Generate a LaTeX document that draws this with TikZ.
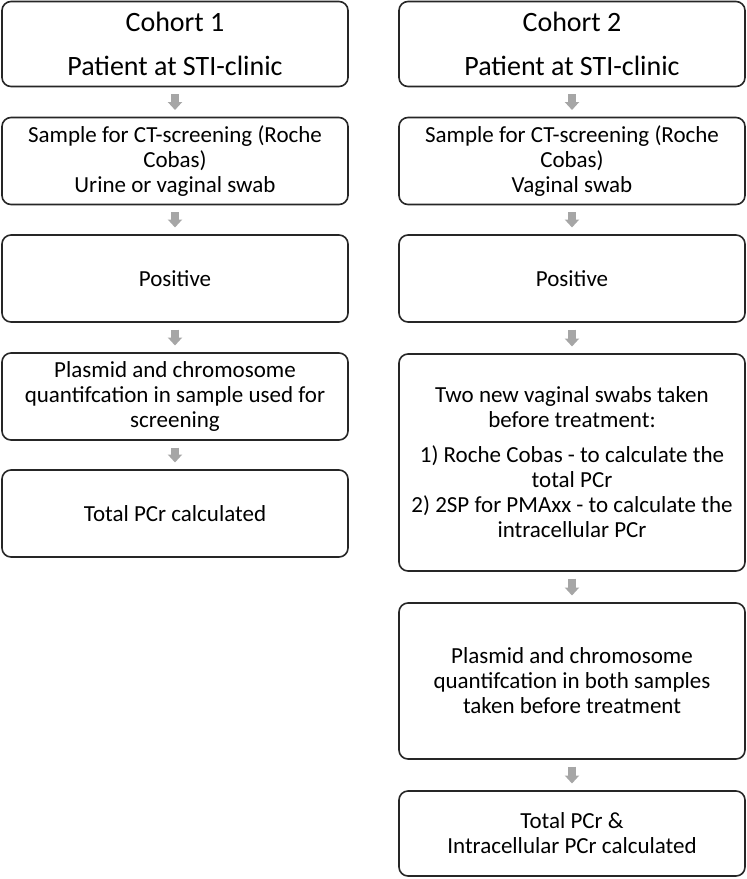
\documentclass[tikz,border=0pt]{standalone}
\usepackage{fontspec}
\setmainfont{Carlito}
\usetikzlibrary{arrows.meta}

\begin{document}
\begin{tikzpicture}[x=1pt,y=-1pt,
    box/.style={draw=black!85, line width=1.6pt, rounded corners=9pt, minimum width=346pt,
        align=center, inner sep=0pt, outer sep=0pt, font=\fontsize{23}{25}\selectfont},
    head/.style={box, font=\fontsize{28}{34}\selectfont},
    flow/.style={draw=black!35, line width=8pt, -{Triangle[width=14pt,length=8pt]},
        shorten <=7.5pt, shorten >=7.5pt}]
    \useasboundingbox (0,0) rectangle (747,879);

    \begin{scope}
        \node[head, minimum height=85pt] (A) at (175,44) {Cohort 1\\[10pt] Patient at STI-clinic};
        \node[box, minimum height=87pt] (B) at (175,161) {Sample for CT-screening (Roche\\ Cobas)\\ Urine or vaginal swab};
        \node[box, minimum height=87pt] (C) at (175,278.5) {Positive};
        \node[box, minimum height=87pt] (D) at (175,396.5) {Plasmid and chromosome\\ quantifcation in sample used for\\ screening};
        \node[box, minimum height=87pt] (E) at (175,513.5) {Total PCr calculated};
        \draw[flow] (A) to (B);
        \draw[flow] (B) to (C);
        \draw[flow] (C) to (D);
        \draw[flow] (D) to (E);
    \end{scope}

    \begin{scope}[xshift=397pt]
        \node[head, minimum height=85pt] (A) at (175,44) {Cohort 2\\[10pt] Patient at STI-clinic};
        \node[box, minimum height=87pt] (B) at (175,161) {Sample for CT-screening (Roche\\ Cobas)\\ Vaginal swab};
        \node[box, minimum height=87pt] (C) at (175,278.5) {Positive};
        \node[box, minimum height=217pt] (D) at (175,462.5) {Two new vaginal swabs taken\\ before treatment:\\[10pt]
            1) Roche Cobas - to calculate the\\ total PCr\\ 2) 2SP for PMAxx - to calculate the\\ intracellular PCr};
        \node[box, minimum height=156pt] (E) at (175,681) {Plasmid and chromosome\\ quantifcation in both samples\\ taken before treatment};
        \node[box, minimum height=85pt] (F) at (175,833.5) {Total PCr \&\\ Intracellular PCr calculated};
        \draw[flow] (A) to (B);
        \draw[flow] (B) to (C);
        \draw[flow] (C) to (D);
        \draw[flow] (D) to (E);
        \draw[flow] (E) to (F);
    \end{scope}
\end{tikzpicture}
\end{document}
